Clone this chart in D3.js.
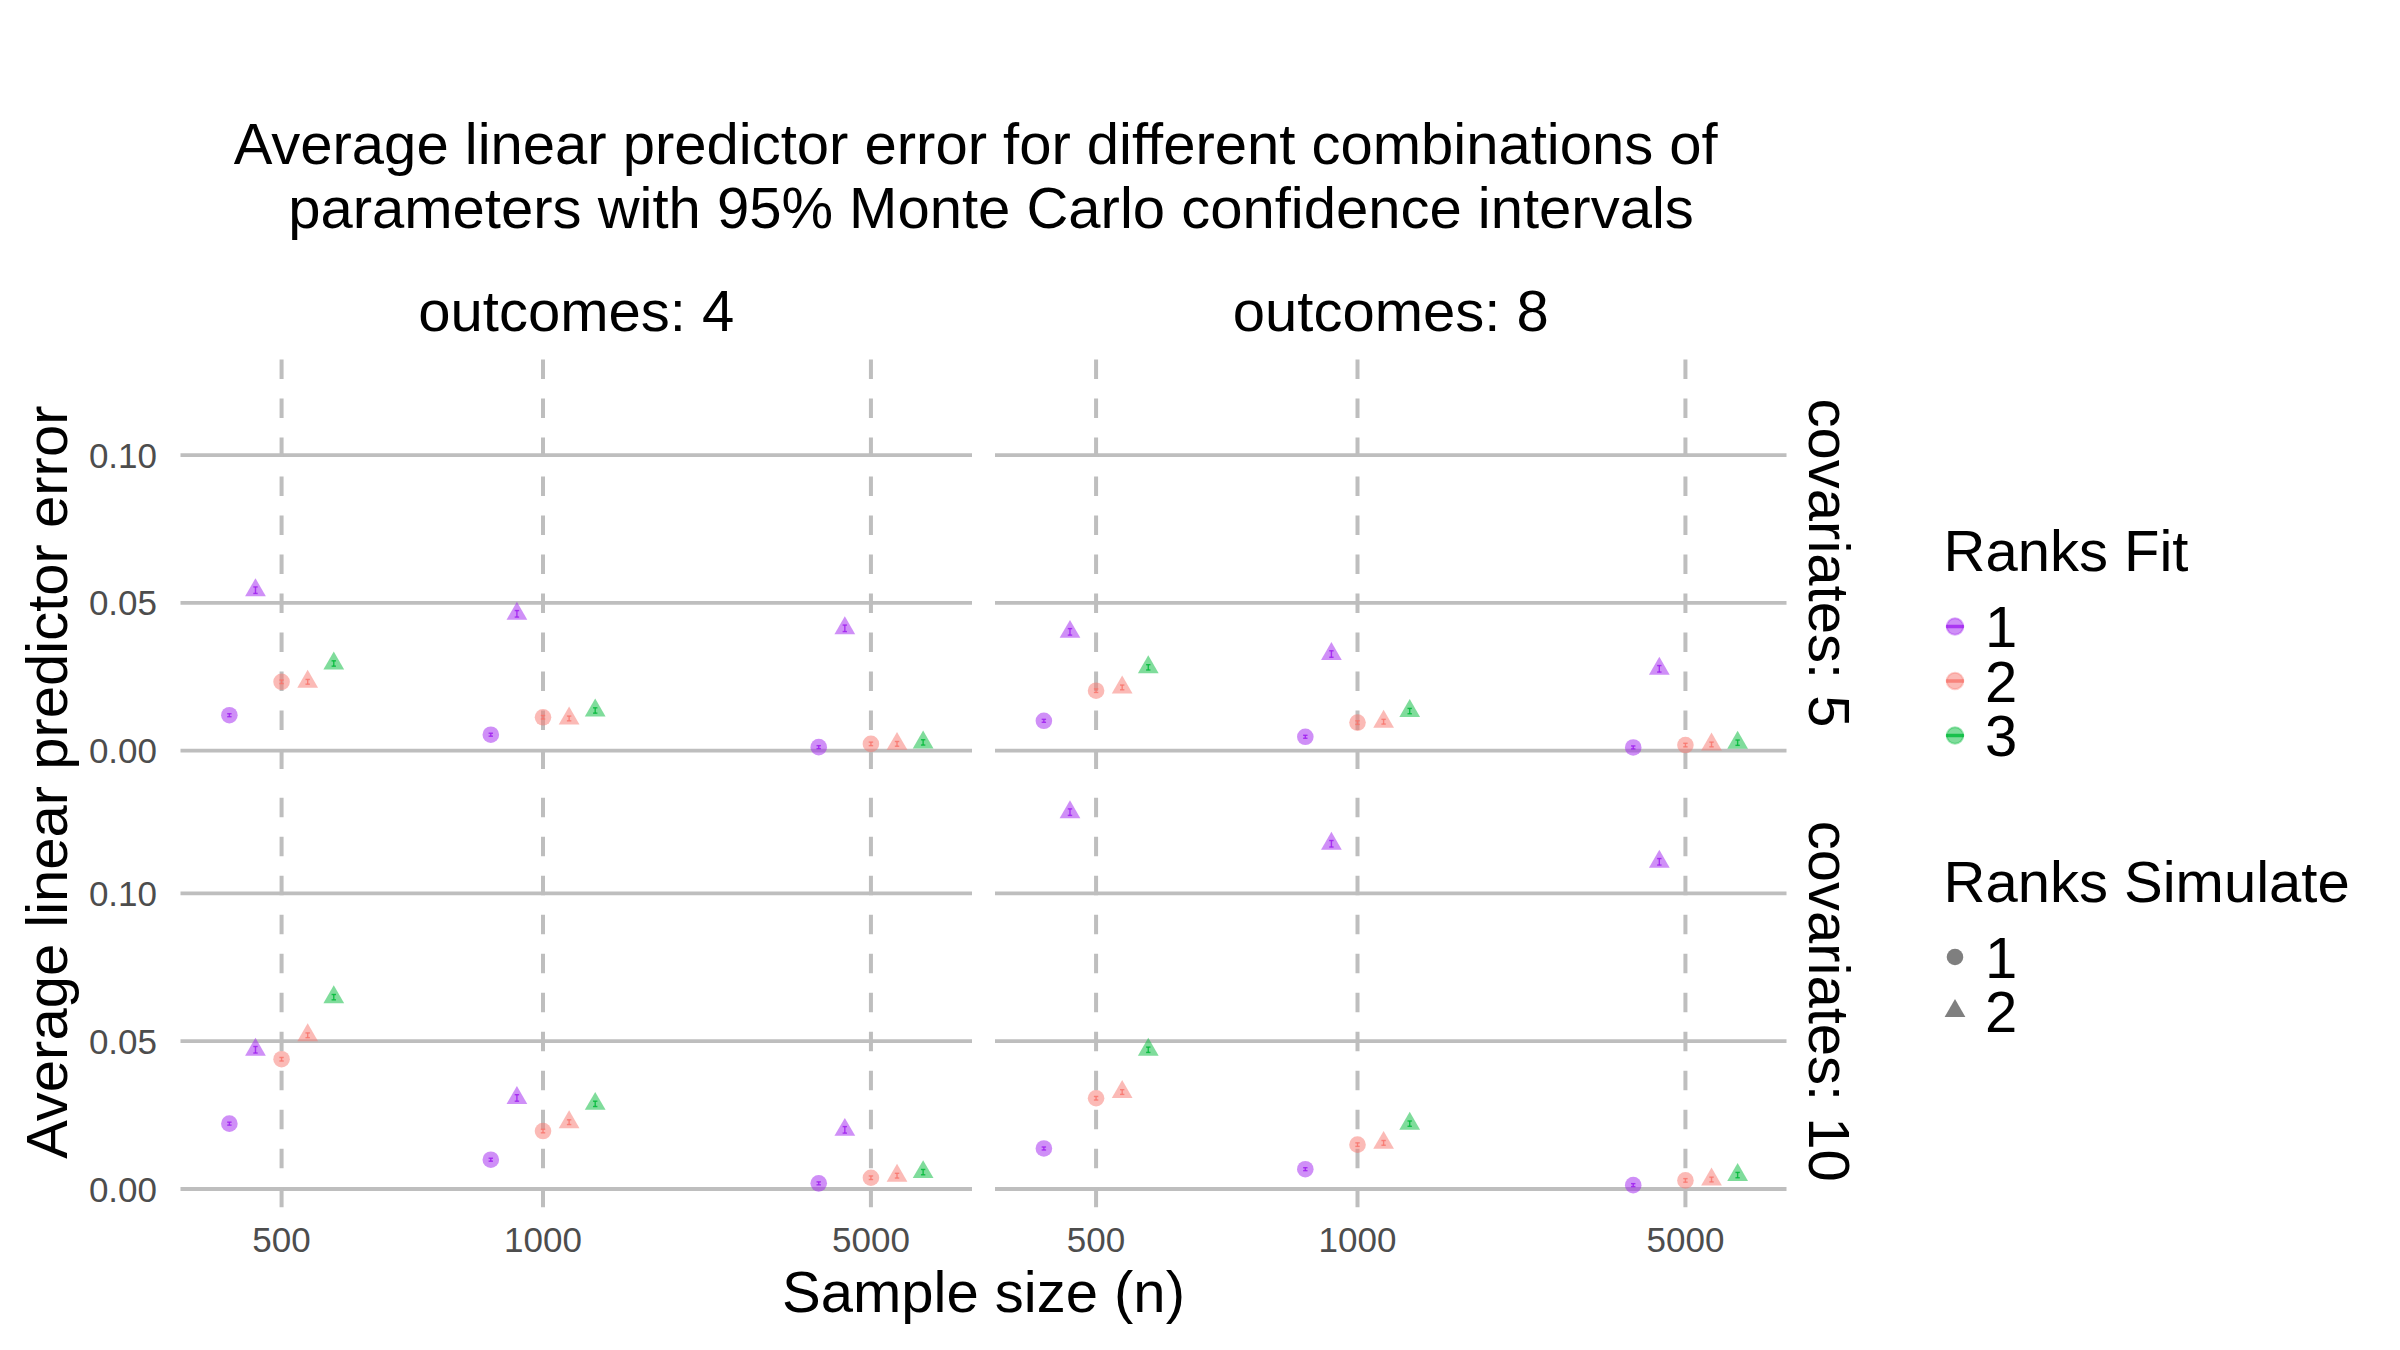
<!DOCTYPE html>
<html><head><meta charset="utf-8">
<script src="https://cdn.jsdelivr.net/npm/d3@7"></script>
<style>
body{margin:0;background:#fff}
svg{display:block}
text{font-family:"Liberation Sans",Arial,Helvetica,sans-serif}
</style>
</head><body>
<svg id="chart" width="2400" height="1350"></svg>
<script>
// ---------------- data ----------------
const sampleSizes = [500, 1000, 5000];
const outcomeLevels = [4, 8];
const covariateLevels = [5, 10];
const ranksFitLevels = [1, 2, 3];
const ranksSimulateLevels = [1, 2];
// dodge groups (order within each sample size)
const comboRanksFit = [1, 1, 2, 2, 3];
const comboRanksSimulate = [1, 2, 1, 2, 2];
const yTickValues = [0, 0.05, 0.10];

// rows: n = 500, 1000, 5000 ; columns: the five dodge groups above
const errOutcomes4Cov5 = [
  [0.0120, 0.0543, 0.0233, 0.0233, 0.0295],
  [0.0054, 0.0463, 0.0113, 0.0109, 0.0136],
  [0.0012, 0.0414, 0.0023, 0.0023, 0.0028]
];
const errOutcomes4Cov10 = [
  [0.0221, 0.0471, 0.0439, 0.0520, 0.0649],
  [0.0099, 0.0308, 0.0196, 0.0226, 0.0288],
  [0.0019, 0.0200, 0.0038, 0.0045, 0.0057]
];
const errOutcomes8Cov5 = [
  [0.0101, 0.0402, 0.0203, 0.0214, 0.0282],
  [0.0047, 0.0327, 0.0095, 0.0098, 0.0134],
  [0.0011, 0.0277, 0.0019, 0.0021, 0.0027]
];
const errOutcomes8Cov10 = [
  [0.0137, 0.1275, 0.0307, 0.0328, 0.0471],
  [0.0067, 0.1168, 0.0150, 0.0156, 0.0221],
  [0.0013, 0.1107, 0.0029, 0.0032, 0.0047]
];
// half width of the 95% Monte Carlo confidence interval (per dodge group)
const ciHalfWidth = [0.0005, 0.0011, 0.0006, 0.0008, 0.0009];

const titleLines = ["Average linear predictor error for different combinations of",
                    "parameters with 95% Monte Carlo confidence intervals"];
const xAxisTitle = "Sample size (n)";
const yAxisTitle = "Average linear predictor error";
const colorLegendTitle = "Ranks Fit";
const shapeLegendTitle = "Ranks Simulate";

const panelData = {
  "4|5": errOutcomes4Cov5, "4|10": errOutcomes4Cov10,
  "8|5": errOutcomes8Cov5, "8|10": errOutcomes8Cov10
};

// ---------------- layout ----------------
const svg = d3.select("#chart");
svg.append("rect").attr("width", 2400).attr("height", 1350).attr("fill", "#fff");

const colX = [180.5, 995];
const rowY = [357, 795.3];
const panelW = 791.5, panelH = 412;
const gridColor = "#bebebe";
const tickColor = "#4d4d4d";
const bigFont = 58, tickFont = 35;

const x = d3.scaleLinear().domain(sampleSizes)
  .range([0.1277, 0.4580, 0.8723].map(f => f * panelW));
const y = d3.scaleLinear().domain([-0.0062, 0.1332]).range([panelH, 0]);
const dodge = d3.scalePoint().domain(d3.range(comboRanksFit.length)).range([-52.2, 52.2]);
const color = d3.scaleOrdinal().domain(ranksFitLevels).range(["#A020F0", "#F8766D", "#00BA38"]);
const shapeType = d3.scaleOrdinal().domain(ranksSimulateLevels).range([d3.symbolCircle, d3.symbolTriangle]);
const shapeSize = d3.scaleOrdinal().domain(ranksSimulateLevels).range([216, 186]);
const symbol = d3.symbol();

outcomeLevels.forEach((o, ci) => {
  covariateLevels.forEach((c, ri) => {
    const g = svg.append("g").attr("transform", `translate(${colX[ci]},${rowY[ri]})`);
    // horizontal grid
    g.selectAll("line.hg").data(yTickValues).join("line")
      .attr("x1", 0).attr("x2", panelW)
      .attr("y1", d => y(d)).attr("y2", d => y(d))
      .attr("stroke", gridColor).attr("stroke-width", 3.8);
    // vertical dashed grid (drawn from bottom upward)
    g.selectAll("line.vg").data(sampleSizes).join("line")
      .attr("x1", d => x(d)).attr("x2", d => x(d))
      .attr("y1", panelH).attr("y2", 0)
      .attr("stroke", gridColor).attr("stroke-width", 4)
      .attr("stroke-dasharray", "19.5 19.5");

    const vals = panelData[o + "|" + c];
    const pts = [];
    sampleSizes.forEach((n, i) => {
      vals[i].forEach((v, k) => {
        pts.push({n, k, v, fit: comboRanksFit[k], sim: comboRanksSimulate[k], h: ciHalfWidth[k]});
      });
    });
    // points
    g.selectAll("path.pt").data(pts).join("path")
      .attr("transform", d => `translate(${x(d.n) + dodge(d.k)},${y(d.v)})`)
      .attr("d", d => symbol.type(shapeType(d.sim)).size(shapeSize(d.sim))())
      .attr("fill", d => color(d.fit)).attr("fill-opacity", 0.5);
    // error bars
    const eb = g.selectAll("g.eb").data(pts).join("g")
      .attr("stroke", d => color(d.fit)).attr("stroke-width", 1.4).attr("stroke-opacity", 0.85);
    eb.append("line")
      .attr("x1", d => x(d.n) + dodge(d.k)).attr("x2", d => x(d.n) + dodge(d.k))
      .attr("y1", d => y(d.v - d.h)).attr("y2", d => y(d.v + d.h));
    eb.append("line")
      .attr("x1", d => x(d.n) + dodge(d.k) - 2.2).attr("x2", d => x(d.n) + dodge(d.k) + 2.2)
      .attr("y1", d => y(d.v - d.h)).attr("y2", d => y(d.v - d.h));
    eb.append("line")
      .attr("x1", d => x(d.n) + dodge(d.k) - 2.2).attr("x2", d => x(d.n) + dodge(d.k) + 2.2)
      .attr("y1", d => y(d.v + d.h)).attr("y2", d => y(d.v + d.h));

    // y tick labels on left column
    if (ci === 0) {
      g.selectAll("text.yt").data(yTickValues).join("text")
        .attr("x", -23.5).attr("y", d => y(d)).attr("dy", "0.36em")
        .attr("text-anchor", "end").attr("font-size", tickFont).attr("fill", tickColor)
        .text(d3.format(".2f"));
    }
    // x tick labels on bottom row
    if (ri === covariateLevels.length - 1) {
      g.selectAll("text.xt").data(sampleSizes).join("text")
        .attr("x", d => x(d)).attr("y", 1252 - rowY[ri])
        .attr("text-anchor", "middle").attr("font-size", tickFont).attr("fill", tickColor)
        .text(d => d);
    }
    // top strip
    if (ri === 0) {
      g.append("text").attr("x", panelW / 2).attr("y", -26)
        .attr("text-anchor", "middle").attr("font-size", bigFont).attr("fill", "#000")
        .text(`outcomes: ${o}`);
    }
    // right strip
    if (ci === outcomeLevels.length - 1) {
      g.append("text").attr("transform", `translate(${panelW + 22},${panelH / 2}) rotate(90)`)
        .attr("text-anchor", "middle").attr("font-size", bigFont).attr("fill", "#000")
        .text(`covariates: ${c}`);
    }
  });
});

// titles
svg.append("text").attr("x", 975.7).attr("y", 164).attr("text-anchor", "middle")
  .attr("font-size", bigFont).attr("fill", "#000").text(titleLines[0]);
svg.append("text").attr("x", 991).attr("y", 228).attr("text-anchor", "middle")
  .attr("font-size", bigFont).attr("fill", "#000").text(titleLines[1]);
svg.append("text").attr("x", (colX[0] + colX[1] + panelW) / 2).attr("y", 1312)
  .attr("text-anchor", "middle").attr("font-size", bigFont).attr("fill", "#000").text(xAxisTitle);
svg.append("text").attr("transform", `translate(67,${(rowY[0] + rowY[1] + panelH) / 2}) rotate(-90)`)
  .attr("text-anchor", "middle").attr("font-size", bigFont).attr("fill", "#000").text(yAxisTitle);

// legends
const lg = svg.append("g");
const keyX = 1955, labelX = 1985;
lg.append("text").attr("x", 1943.5).attr("y", 571).attr("font-size", bigFont).attr("fill", "#000").text(colorLegendTitle);
const colorKeyY = d3.scalePoint().domain(ranksFitLevels).range([626.5, 735.5]);
ranksFitLevels.forEach(f => {
  const cy = colorKeyY(f);
  lg.append("path").attr("transform", `translate(${keyX},${cy})`)
    .attr("d", d3.symbol().type(d3.symbolCircle).size(216)())
    .attr("fill", color(f)).attr("fill-opacity", 0.5)
    .attr("stroke", color(f)).attr("stroke-opacity", 0.35).attr("stroke-width", 2);
  lg.append("line").attr("x1", keyX - 9).attr("x2", keyX + 9).attr("y1", cy).attr("y2", cy)
    .attr("stroke", color(f)).attr("stroke-width", 3.5).attr("stroke-opacity", 0.8);
  lg.append("text").attr("x", labelX).attr("y", cy).attr("dy", "0.36em")
    .attr("font-size", bigFont).attr("fill", "#000").text(f);
});
lg.append("text").attr("x", 1943.5).attr("y", 902).attr("font-size", bigFont).attr("fill", "#000").text(shapeLegendTitle);
const shapeKeyY = d3.scalePoint().domain(ranksSimulateLevels).range([957, 1011]);
ranksSimulateLevels.forEach(s => {
  const cy = shapeKeyY(s);
  lg.append("path").attr("transform", `translate(${keyX},${cy})`)
    .attr("d", d3.symbol().type(shapeType(s)).size(shapeSize(s))())
    .attr("fill", "#000").attr("fill-opacity", 0.5);
  lg.append("text").attr("x", labelX).attr("y", cy).attr("dy", "0.36em")
    .attr("font-size", bigFont).attr("fill", "#000").text(s);
});
</script>
</body></html>
